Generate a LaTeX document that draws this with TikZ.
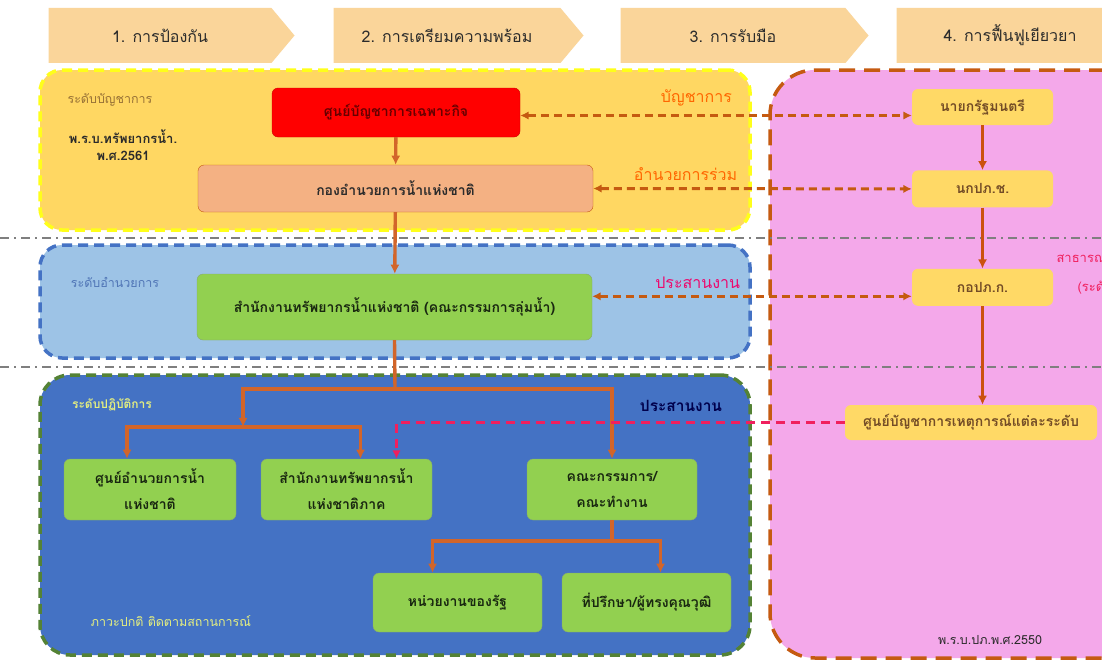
\documentclass[tikz,border=0pt]{standalone}
\usepackage{fontspec}
\newfontfamily\thaifont[Script=Thai]{Loma}
\usepackage{xcolor}
\usepackage{tikz}
\usetikzlibrary{arrows.meta,positioning,calc,shapes.symbols}
\definecolor{peach}{HTML}{FAD59A}
\definecolor{cmdfill}{HTML}{FFD762}
\definecolor{cmdedge}{HTML}{FFFF1A}
\definecolor{cmdred}{HTML}{FF0000}
\definecolor{salmon}{HTML}{F4B183}
\definecolor{rust}{HTML}{C55A11}
\definecolor{skyfill}{HTML}{9DC3E6}
\definecolor{royal}{HTML}{4472C4}
\definecolor{leaf}{HTML}{92D050}
\definecolor{olive}{HTML}{548235}
\definecolor{pinkfill}{HTML}{F4A8EA}
\definecolor{gold}{HTML}{FFD966}
\definecolor{linkorange}{HTML}{D2652A}
\definecolor{hotred}{HTML}{F0205E}
\definecolor{sepgray}{HTML}{7F7F7F}
\definecolor{darkink}{HTML}{2B2B2B}
\definecolor{paleyellow}{HTML}{E4EE80}

\begin{document}
\begin{tikzpicture}[
  x=1pt,y=-1pt,
  font=\thaifont\fontsize{14}{17}\selectfont,
  phase/.style={
    signal,
    signal to=east,
    signal pointer angle=100,
    fill=peach,
    draw=none,
    text=darkink,
    font=\thaifont\fontsize{16}{19}\selectfont,
    minimum height=55pt
  },
  zone/.style={
    rounded corners=22pt,
    line width=3.5pt,
    dash pattern=on 10pt off 6pt
  },
  box/.style={
    rounded corners=6pt,
    align=center,
    font=\thaifont\bfseries\fontsize{14}{26}\selectfont
  },
  greenbox/.style={
    box,
    fill=leaf,
    draw=olive!70,
    text=olive!30!black
  },
  goldbox/.style={
    box,
    fill=gold,
    draw=none,
    text=brown!60!black,
    font=\thaifont\bfseries\fontsize{14}{17}\selectfont
  },
  tag/.style={font=\thaifont\fontsize{12.5}{15}\selectfont,align=center},
  flowlabel/.style={font=\thaifont\fontsize{16}{19}\selectfont},
  link/.style={-{Latex[length=3.2mm,width=3.2mm]},line width=3.4pt,draw=linkorange},
  dasharrow/.style={{Latex[length=3mm,width=3mm]}-{Latex[length=3mm,width=3mm]},line width=3pt,draw=rust,dash pattern=on 8pt off 5pt},
  reddash/.style={-{Latex[length=3mm,width=3mm]},line width=3pt,draw=hotred,dash pattern=on 9pt off 6pt},
  separator/.style={line width=2pt,draw=sepgray,dash pattern=on 9pt off 5pt on 2pt off 5pt}
]
\useasboundingbox (0,0) rectangle (1102,661);
\fill[white] (0,0) rectangle (1102,661);
\begin{scope}
\clip (0,0) rectangle (1102,661);

% 1. Phase arrows
\node[phase,minimum width=246pt] (phase1) at (160,35.5) {1. การป้องกัน};
\node[phase,minimum width=250pt] (phase2) at (447,35.5) {2. การเตรียมความพร้อม};
\node[phase,minimum width=248pt] (phase3) at (733,35.5) {3. การรับมือ};
\node[phase,minimum width=250pt] (phase4) at (1010,35.5) {4. การฟื้นฟูเยียวยา};

% 2. Zones
\node[zone,draw=cmdedge,fill=cmdfill,minimum width=710pt,minimum height=160pt] (cmdzone) at (395,150) {};
\node[zone,draw=royal,fill=skyfill,minimum width=710pt,minimum height=113pt] (dirzone) at (395,301.5) {};
\node[zone,draw=olive,fill=royal,rounded corners=30pt,minimum width=710pt,minimum height=280pt] (opzone) at (395,515) {};
\node[zone,draw=rust,fill=pinkfill,rounded corners=45pt,dash pattern=on 16pt off 9pt,minimum width=380pt,minimum height=588pt] (dpmzone) at (960,364) {};

\draw[separator] (0,238) -- (1102,238);
\draw[separator] (0,367) -- (1102,367);

% 3. Zone labels
\node[tag,text=brown!60!cmdfill!70!black] (cmdlevel) at (110,100) {ระดับบัญชาการ};
\node[tag,text=darkink,font=\thaifont\bfseries\fontsize{13}{17}\selectfont] (waterlaw) at (123,145) {พ.ร.บ.ทรัพยากรน้ำ.\\พ.ศ.2561};
\node[tag,text=royal!80!gray] (dirlevel) at (115,282) {ระดับอำนวยการ};
\node[tag,text=paleyellow,font=\thaifont\bfseries\fontsize{12}{15}\selectfont] (oplevel) at (112,405) {ระดับปฏิบัติการ};
\node[tag,text=blue!30!black,font=\thaifont\bfseries\fontsize{15.5}{18}\selectfont] (opcoord) at (681,406) {ประสานงาน};
\node[tag,text=paleyellow] (normal) at (171,621) {ภาวะปกติ ติดตามสถานการณ์};
\node[tag,text=darkink] (dpmlaw) at (990,640) {พ.ร.บ.ปภ.พ.ศ.2550};
\node[tag,anchor=west,text=hotred,font=\thaifont\fontsize{13}{15}\selectfont] (disaster) at (1053,257) {สาธารณภัย};
\node[tag,anchor=west,text=hotred,font=\thaifont\fontsize{13}{15}\selectfont] (disasterlevel) at (1074,288) {(ระดับ};

% 4. Command and directing level
\node[box,fill=cmdred,draw=red!80!black,text=red!40!black,minimum width=248pt,minimum height=49pt] (redbox) at (396,112.5) {ศูนย์บัญชาการเฉพาะกิจ};
\node[box,fill=salmon,draw=rust,text=darkink,minimum width=395pt,minimum height=47pt] (nationalhq) at (395.5,188.5) {กองอำนวยการน้ำแห่งชาติ};
\node[greenbox,minimum width=395pt,minimum height=66pt] (mainoffice) at (394.5,307) {สำนักงานทรัพยากรน้ำแห่งชาติ (คณะกรรมการลุ่มน้ำ)};

% 5. Operation level
\node[greenbox,minimum width=172pt,minimum height=61pt] (watercenter) at (150,489.5) {ศูนย์อำนวยการน้ำ\\แห่งชาติ};
\node[greenbox,minimum width=171pt,minimum height=61pt] (regional) at (346.5,489.5) {สำนักงานทรัพยากรน้ำ\\แห่งชาติภาค};
\node[greenbox,minimum width=170pt,minimum height=61pt] (committee) at (612,489.5) {คณะกรรมการ/\\คณะทำงาน};
\node[greenbox,minimum width=169pt,minimum height=59pt] (stateagency) at (457.5,602.5) {หน่วยงานของรัฐ};
\node[greenbox,minimum width=169pt,minimum height=59pt] (advisor) at (646.5,602.5) {ที่ปรึกษา/ผู้ทรงคุณวุฒิ};

% 6. Disaster prevention side
\node[goldbox,minimum width=141pt,minimum height=36pt] (nayok) at (982.5,107) {นายกรัฐมนตรี};
\node[goldbox,minimum width=141pt,minimum height=37pt,below=45pt of nayok] (nkp) {นกปภ.ช.};
\node[goldbox,minimum width=141pt,minimum height=37pt,below=61pt of nkp] (kop) {กอปภ.ก.};
\node[goldbox,minimum width=252pt,minimum height=35pt] (eventcenter) at (971,422.5) {ศูนย์บัญชาการเหตุการณ์แต่ละระดับ};

% Connections
\coordinate (hub1) at (395,389);
\coordinate (hub2) at (243,427);
\coordinate (hub3) at (612,541);

\draw[link] (redbox) -- (nationalhq);
\draw[link] (nationalhq) -- (mainoffice);
\draw[link,-] (mainoffice.south) -- (hub1);
\draw[link] (hub1) -| (committee.north);
\draw[link] (hub1) -| (hub2);
\draw[link] (hub2) -| ([xshift=-23pt]watercenter.north);
\draw[link] (hub2) -| ([xshift=14pt]regional.north);
\draw[link,-] (committee.south) -- (hub3);
\draw[link] (hub3) -| ([xshift=-25pt]stateagency.north);
\draw[link] (hub3) -| ([xshift=14pt]advisor.north);

\draw[link,draw=rust!90!red] (nayok) -- (nkp);
\draw[link,draw=rust!90!red] (nkp) -- (kop);
\draw[link,draw=rust!90!red] (kop.south) -- (kop.south |- eventcenter.north);

\draw[dasharrow] ([yshift=-3pt]redbox.east) -- node[pos=0.45,above=5pt,text=orange!80!red,flowlabel] {บัญชาการ} ([yshift=-3pt]redbox.east -| nayok.west);
\draw[dasharrow] (nationalhq.east) -- node[pos=0.29,above=3pt,text=orange!80!red,flowlabel] {อำนวยการร่วม} (nkp.west);
\draw[dasharrow] ([yshift=-9pt]kop.west -| mainoffice.east) -- node[pos=0.33,above=3pt,text=magenta!70!red,flowlabel] {ประสานงาน} ([yshift=-9pt]kop.west);
\draw[reddash] (eventcenter.west) -| ([xshift=50pt]regional.north);

\end{scope}
\end{tikzpicture}
\end{document}
